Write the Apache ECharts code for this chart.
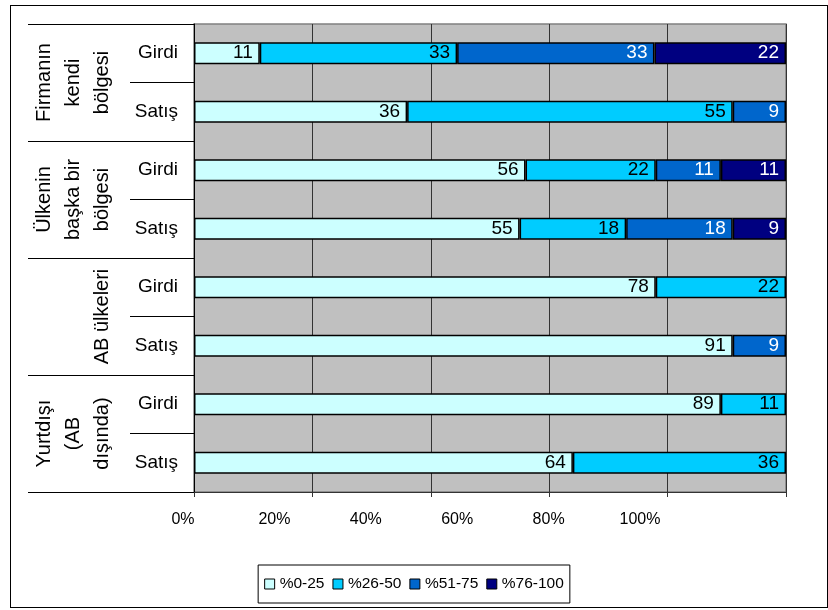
<!DOCTYPE html>
<html><head><meta charset="utf-8">
<script src="https://cdn.jsdelivr.net/npm/echarts@6/dist/echarts.min.js"></script>
<style>
html,body{margin:0;padding:0;background:#fff;}
#frame{position:absolute;left:10px;top:5px;width:818px;height:603px;border:1px solid #000;box-sizing:border-box;}
#chart{position:absolute;left:0;top:0;width:828px;height:610px;}
</style></head><body>
<div id="frame"></div>
<div id="chart"></div>
<script>
// ---- data ----
const groups = ['Firmanın\nkendi\nbölgesi', 'Ülkenin\nbaşka bir\nbölgesi', 'AB ülkeleri', 'Yurtdışı\n(AB\ndışında)'];
const rows = ['Girdi', 'Satış', 'Girdi', 'Satış', 'Girdi', 'Satış', 'Girdi', 'Satış'];
const seriesNames = ['%0-25', '%26-50', '%51-75', '%76-100'];
const s0_25   = [11, 36, 56, 55, 78, 91, 89, 64];
const s26_50  = [33, 55, 22, 18, 22, 0, 11, 36];
const s51_75  = [33, 9, 11, 18, 0, 9, 0, 0];
const s76_100 = [22, 0, 11, 9, 0, 0, 0, 0];
const tickLabels = ['0%', '20%', '40%', '60%', '80%', '100%'];

// ---- styles ----
const colors = ['#CCFFFF', '#00CCFF', '#0066CC', '#000080'];
const labelColors = ['#000', '#000', '#fff', '#fff'];
const FONT = 'Liberation Sans, Arial, sans-serif';

const allSeries = [s0_25, s26_50, s51_75, s76_100];
const totals = rows.map((_, i) => allSeries.reduce((a, s) => a + s[i], 0));
const rowKeys = rows.map((_, i) => 'r' + i);

const chart = echarts.init(document.getElementById('chart'), null, {renderer: 'canvas'});
chart.setOption({
  animation: false,
  textStyle: {fontFamily: FONT},
  grid: [
    {left: 194, right: 42, top: 24, bottom: 118, show: true, backgroundColor: '#C0C0C0',
     borderWidth: 1.5, borderColor: '#808080'},
    {left: 183, right: 188, top: 24, bottom: 118, show: false}
  ],
  xAxis: [
    {type: 'value', gridIndex: 0, min: 0, max: 100, interval: 20,
     axisLabel: {show: false},
     axisLine: {show: true, lineStyle: {color: '#333', width: 1}},
     axisTick: {show: true, length: 5, lineStyle: {color: '#333'}},
     splitLine: {show: true, lineStyle: {color: '#333', width: 1}}},
    {type: 'value', gridIndex: 1, min: 0, max: 100, interval: 20,
     axisLine: {show: false}, axisTick: {show: false}, splitLine: {show: false},
     axisLabel: {show: true, margin: 20, fontSize: 16, color: '#000', fontFamily: FONT,
       formatter: (v) => tickLabels[Math.round(v / 20)]}}
  ],
  yAxis: [
    {type: 'category', gridIndex: 0, inverse: true, data: rowKeys,
     axisLine: {show: true, lineStyle: {color: '#000', width: 1}},
     axisTick: {show: true, interval: 0, length: 64, lineStyle: {color: '#000', width: 1}},
     axisLabel: {interval: 0, margin: 16, fontSize: 19, color: '#000', fontFamily: FONT,
       formatter: (v, i) => rows[i]}},
    {type: 'category', gridIndex: 0, inverse: true, data: groups, position: 'left', offset: 166,
     axisLine: {show: false},
     axisTick: {show: true, interval: 0, inside: true, length: 166, lineStyle: {color: '#000', width: 1}},
     axisLabel: {interval: 0, inside: true, rotate: 90, margin: 89, verticalAlign: 'bottom', align: 'center',
       lineHeight: 29, fontSize: 20, color: '#000', fontFamily: FONT}},
    {type: 'value', gridIndex: 1, show: false}
  ],
  legend: {
    data: seriesNames, left: 'center', bottom: 7, itemWidth: 10, itemHeight: 10, itemGap: 8,
    icon: 'rect', borderColor: '#000', borderWidth: 1, padding: [11, 6], backgroundColor: '#fff',
    textStyle: {fontSize: 15.5, color: '#000', fontFamily: FONT},
    itemStyle: {borderColor: '#000', borderWidth: 1}
  },
  series: allSeries.map((arr, k) => ({
    name: seriesNames[k], type: 'bar', stack: 'total', xAxisIndex: 0, yAxisIndex: 0,
    barWidth: 22,
    itemStyle: {color: colors[k], borderColor: '#000', borderWidth: 1.5},
    label: {show: true, position: 'insideRight', distance: 7, color: labelColors[k], fontSize: 19,
      fontFamily: FONT, formatter: (p) => p.data.raw},
    data: arr.map((v, i) => v ? {value: v / totals[i] * 100, raw: v} : {value: '-', raw: ''})
  }))
});
</script>
</body></html>
